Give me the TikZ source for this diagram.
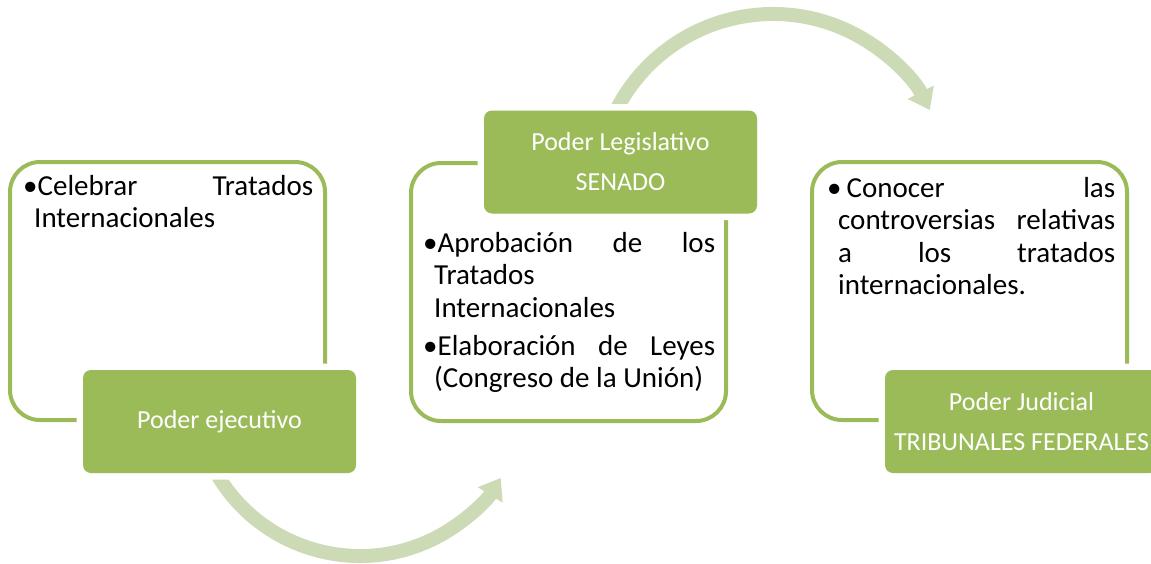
\documentclass[tikz,border=0pt]{standalone}
\usepackage{fontspec}
\setmainfont{Carlito}
\usetikzlibrary{arrows.meta}
\definecolor{verde}{RGB}{155,187,89}
\definecolor{verdeclaro}{RGB}{204,218,181}
\newcommand\vineta{\hangindent=11pt\hangafter=1•}

\begin{document}
\begin{tikzpicture}[x=1pt,y=-1pt,
  marco/.style={draw=verde,line width=4pt,rounded corners=30pt,minimum width=315pt,minimum height=258pt,inner sep=0pt},
  caja/.style={fill=verde,rounded corners=8pt,minimum width=273pt,minimum height=103pt,inner sep=0pt,
    preaction={draw=white,line width=13pt},text=white,align=center,font=\fontsize{26}{40}\selectfont},
  texto/.style={text width=292pt,inner sep=0pt,anchor=base west,align=justify,font=\fontsize{29}{32.5}\selectfont,
    execute at begin node={\tolerance=10000\hyphenpenalty=10000\parskip=5.5pt}},
  flecha/.style={draw=verdeclaro,line width=14pt,-{Triangle[width=28pt,length=20pt]}}]
\useasboundingbox (0,0) rectangle (1151,563);
\coordinate (c1) at (360,390);
\coordinate (c2) at (773,190);
\draw[flecha] (c1) ++(150:166) arc[start angle=150,end angle=32,radius=166];
\draw[flecha] (c2) ++(208:176) arc[start angle=208,end angle=333,radius=176];
\node[marco] (m1) at (167.5,291) {};
\node[marco] (m2) at (568.5,292) {};
\node[marco] (m3) at (969.5,291) {};
\node[caja] (ejecutivo) at (219.5,421.5) {Poder ejecutivo};
\node[caja] (legislativo) at (620.5,162) {Poder Legislativo\\SENADO};
\node[caja] (judicial) at (1021.5,421.5) {Poder Judicial\\TRIBUNALES FEDERALES};
\node[texto,text width=290pt] (t1) at (23,195) {\vineta Celebrar Tratados\linebreak Internacionales\par};
\node[texto] (t2) at (423,252) {\vineta Aprobación de los\linebreak Tratados\newline Internacionales\par
  \vineta Elaboración de Leyes\linebreak (Congreso de la Unión)\par};
\node[texto,text width=288pt] (t3) at (827,197) {\vineta\kern5pt Conocer las\linebreak controversias relativas\linebreak a los tratados\linebreak internacionales.\par};
\end{tikzpicture}
\end{document}
